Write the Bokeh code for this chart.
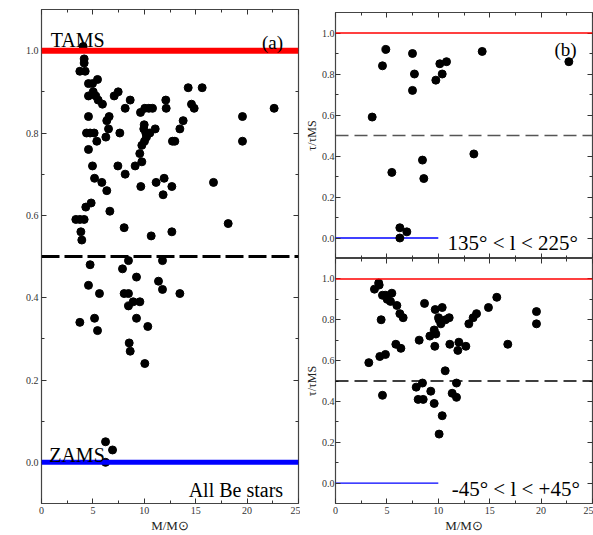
from bokeh.plotting import figure
from bokeh.layouts import row, column
from bokeh.models import LinearAxis, FixedTicker, NumeralTickFormatter, Label, Span
from bokeh.embed import file_html
from bokeh.resources import INLINE

FONT = "Liberation Serif"

# ---------------- data ----------------
# (a) all Be stars
mass_all = [4.05, 4.15, 4.15, 3.73, 4.25, 4.57, 4.96, 5.45, 5.03, 4.57,
            5.28, 5.51, 5.93, 4.57, 6.58, 6.35, 6.52, 4.38, 4.73, 5.12,
            5.38, 6.26, 4.57, 4.96, 5.16, 5.87, 6.35, 6.65, 4.83, 4.31,
            3.34, 3.73, 4.15, 3.83, 3.92, 7.07, 7.46, 7.62, 8.14, 8.63,
            7.43, 8.14, 8.04, 9.11, 9.66, 9.76, 9.56, 9.76, 9.63, 10.05,
            10.44, 10.80, 9.99, 9.95, 10.15, 10.21, 10.02, 10.54, 11.06, 11.15,
            10.67, 11.93, 11.83, 12.09, 12.13, 12.68, 12.68, 12.74, 12.97, 13.46,
            13.78, 14.27, 14.59, 14.85, 15.63, 16.73, 18.16, 19.55, 19.55, 22.63,
            4.73, 8.46, 11.77, 7.88, 9.24, 4.57, 11.38, 11.77, 5.64, 8.04,
            8.46, 13.46, 8.92, 9.57, 8.46, 3.73, 5.16, 9.24, 5.45, 10.34,
            8.53, 8.63, 10.05, 6.23, 6.91, 6.23]
tau_all = [1.01, 0.98, 0.97, 0.95, 0.95, 0.92, 0.92, 0.93, 0.90, 0.89,
           0.89, 0.88, 0.87, 0.84, 0.84, 0.83, 0.81, 0.80, 0.80, 0.80,
           0.78, 0.79, 0.76, 0.72, 0.69, 0.68, 0.66, 0.61, 0.63, 0.62,
           0.59, 0.59, 0.59, 0.56, 0.54, 0.89, 0.90, 0.80, 0.86, 0.88,
           0.72, 0.70, 0.57, 0.72, 0.67, 0.73, 0.75, 0.77, 0.85, 0.86,
           0.86, 0.86, 0.82, 0.81, 0.80, 0.79, 0.78, 0.80, 0.81, 0.68,
           0.55, 0.69, 0.65, 0.88, 0.86, 0.67, 0.56, 0.78, 0.78, 0.81,
           0.83, 0.91, 0.87, 0.86, 0.91, 0.68, 0.58, 0.84, 0.78, 0.86,
           0.48, 0.49, 0.49, 0.47, 0.45, 0.43, 0.44, 0.42, 0.41, 0.41,
           0.41, 0.41, 0.39, 0.39, 0.38, 0.34, 0.35, 0.35, 0.32, 0.33,
           0.29, 0.27, 0.24, 0.05, 0.03, 0.00]

# (b) top: 135 < l < 225
mass_outer = [3.57, 4.57, 4.90, 5.48, 6.26, 6.26, 6.94, 7.49, 7.68, 7.49,
              8.46, 8.59, 9.76, 10.15, 10.38, 10.80, 13.46, 14.27, 22.70]
tau_outer = [0.59, 0.84, 0.92, 0.32, 0.05, 0.00, 0.03, 0.90, 0.80, 0.72,
             0.38, 0.29, 0.77, 0.85, 0.80, 0.86, 0.41, 0.91, 0.86]

# (b) bottom: -45 < l < +45
mass_inner = [3.24, 3.79, 4.20, 4.25, 4.57, 4.90, 5.48, 5.03, 5.35, 5.97,
              4.44, 6.26, 6.58, 4.31, 4.86, 5.87, 6.36, 4.57, 8.14, 8.66,
              7.85, 8.04, 8.53, 8.46, 9.18, 9.27, 9.60, 9.76, 9.66, 9.60,
              9.70, 10.38, 10.02, 10.08, 10.25, 10.70, 11.06, 10.67, 11.12, 11.35,
              11.77, 11.77, 11.90, 12.00, 12.68, 12.97, 13.39, 13.72, 10.38, 10.08,
              14.88, 15.69, 16.76, 19.55, 19.55]
tau_inner = [0.59, 0.95, 0.98, 0.97, 0.92, 0.92, 0.93, 0.90, 0.89, 0.87,
             0.80, 0.83, 0.81, 0.62, 0.63, 0.68, 0.66, 0.43, 0.70, 0.88,
             0.47, 0.41, 0.41, 0.49, 0.72, 0.45, 0.75, 0.73, 0.67, 0.39,
             0.85, 0.86, 0.81, 0.80, 0.78, 0.80, 0.81, 0.55, 0.68, 0.44,
             0.42, 0.49, 0.65, 0.69, 0.67, 0.78, 0.81, 0.83, 0.33, 0.24,
             0.86, 0.91, 0.68, 0.84, 0.78]

tams_level = 1.0
zams_level = 0.0
half_level = 0.5
zams_short_x = [0, 10]

x_major = [0, 5, 10, 15, 20, 25]
x_minor = [2.5, 7.5, 12.5, 17.5, 22.5]
y_major = [0.0, 0.2, 0.4, 0.6, 0.8, 1.0]
y_minor = [0.1, 0.3, 0.5, 0.7, 0.9]

X_TITLE = "M/M\u2299"
Y_TITLE = "\u03c4/\u03c4MS"


def style_axis(ax, labels, xaxis, title=None, standoff=3):
    ticks = x_major if xaxis else y_major
    ax.ticker = FixedTicker(ticks=ticks, minor_ticks=x_minor if xaxis else y_minor)
    ax.formatter = NumeralTickFormatter(format="0" if xaxis else "0.0")
    ax.axis_line_color = None
    ax.major_tick_in = 5
    ax.major_tick_out = 0
    ax.minor_tick_in = 3
    ax.minor_tick_out = 0
    ax.major_tick_line_color = "#333333"
    ax.minor_tick_line_color = "#333333"
    if labels:
        ax.major_label_text_font = FONT
        ax.major_label_text_font_size = "10px"
        ax.major_label_text_color = "#333333"
        ax.major_label_standoff = standoff
    else:
        ax.major_label_overrides = {t: "" for t in ticks}
        ax.major_label_text_font_size = "1px"
        ax.major_label_standoff = 0
    if title:
        ax.axis_label = title
        ax.axis_label_text_font = FONT
        ax.axis_label_text_font_style = "normal"
        ax.axis_label_text_font_size = "13px" if xaxis else "12px"
        ax.axis_label_text_color = "#222222"
        ax.axis_label_standoff = 1 if xaxis else 0


def make_fig(w, h, bl, br, bt, bb, xlabels=True, xtitle=None, ytitle=None):
    p = figure(width=w, height=h, x_range=(0, 25), y_range=(-0.1, 1.1),
               output_backend="svg", toolbar_location=None,
               min_border_left=bl, min_border_right=br,
               min_border_top=bt, min_border_bottom=bb)
    p.grid.visible = False
    p.outline_line_color = "#444444"
    p.outline_line_width = 1.2
    p.background_fill_color = "white"
    p.border_fill_color = "white"
    style_axis(p.xaxis[0], xlabels, True, xtitle)
    style_axis(p.yaxis[0], True, False, ytitle, standoff=1 if ytitle else 3)
    top = LinearAxis()
    style_axis(top, False, True)
    p.add_layout(top, "above")
    right = LinearAxis()
    style_axis(right, False, False)
    p.add_layout(right, "right")
    return p


def lab(p, x, y, text, size, align="left"):
    p.add_layout(Label(x=x, y=y, text=text, text_font=FONT, text_font_size=size,
                       text_align=align, text_baseline="alphabetic",
                       text_color="black"))


# ---------------- panel (a) ----------------
pa = make_fig(300, 535, 41, 2, 9, 31, xtitle=X_TITLE)
pa.add_layout(Span(location=tams_level, dimension="width", line_color="red", line_width=6))
pa.add_layout(Span(location=zams_level, dimension="width", line_color="blue", line_width=5))
pa.add_layout(Span(location=half_level, dimension="width", line_color="black",
                   line_width=3, line_dash="18 5"))
pa.scatter(mass_all, tau_all, size=8, color="black")
lab(pa, 0.9, 1.025, "TAMS", "20px")
lab(pa, 23.5, 1.02, "(a)", "19px", "right")
lab(pa, 0.75, 0.019, "ZAMS", "20px")
lab(pa, 23.5, -0.067, "All Be stars", "20px", "right")

# ---------------- panel (b) top ----------------
pb = make_fig(293, 258, 35, 1, 12, 0, xlabels=False, ytitle=Y_TITLE)
pb.add_layout(Span(location=tams_level, dimension="width", line_color="red", line_width=1.5))
pb.add_layout(Span(location=half_level, dimension="width", line_color="#555555",
                   line_width=1.5, line_dash="13 6"))
pb.line(zams_short_x, [zams_level, zams_level], line_color="blue", line_width=1.3)
pb.scatter(mass_outer, tau_outer, size=8, color="black")
lab(pb, 23.45, 0.92, "(b)", "19px", "right")
lab(pb, 10.9, -0.023, "135° < l < 225°", "21px")

# ---------------- panel (b) bottom ----------------
pc = make_fig(293, 277, 35, 1, 0, 30, xtitle=X_TITLE, ytitle=Y_TITLE)
pc.add_layout(Span(location=tams_level, dimension="width", line_color="red", line_width=1.5))
pc.add_layout(Span(location=half_level, dimension="width", line_color="black",
                   line_width=1.3, line_dash="13 6"))
pc.line(zams_short_x, [zams_level, zams_level], line_color="blue", line_width=1.3)
pc.scatter(mass_inner, tau_inner, size=8, color="black")
lab(pc, 11.3, -0.028, "-45° < l < +45°", "21px")

layout = row(pa, column(pb, pc))
open("out.html", "w").write(file_html(layout, INLINE))
